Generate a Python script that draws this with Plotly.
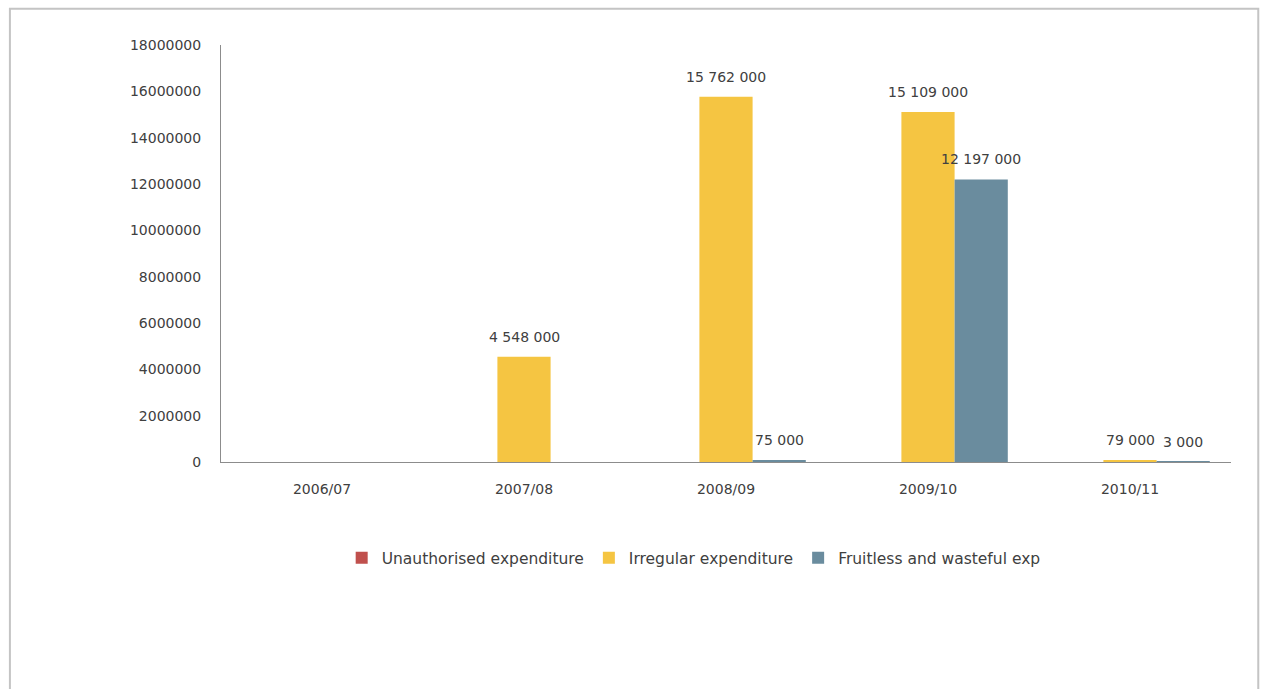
import plotly.graph_objects as go

years = ["2006/07", "2007/08", "2008/09", "2009/10", "2010/11"]
unauthorised = [0, 0, 0, 0, 0]
irregular = [0, 4548000, 15762000, 15109000, 79000]
fruitless = [0, 0, 75000, 12197000, 3000]

series_names = ["Unauthorised expenditure", "Irregular expenditure", "Fruitless and wasteful exp"]
colors = ["#C0504D", "#F5C542", "#6A8C9E"]
y_ticks = list(range(0, 18000001, 2000000))

font = "'DejaVu Sans', sans-serif"
text_color = "#404040"


def fmt(v):
    return f"{v:,}".replace(",", " ")


fig = go.Figure()
all_series = [unauthorised, irregular, fruitless]
for name, vals, col in zip(series_names, all_series, colors):
    fig.add_trace(go.Bar(
        x=years, y=vals, name=name, marker_color=col, marker_line_width=0,
    ))

# value labels above each non-zero bar, shifted to the bar's slot in the group
group_w = 1010 / len(years) * (1 - 0.21)
bar_w = group_w / len(all_series)
annotations = []
for i, vals in enumerate(all_series):
    shift = (i - (len(all_series) - 1) / 2) * bar_w
    for yr, v in zip(years, vals):
        if v:
            annotations.append(dict(
                x=yr, y=v, text=fmt(v), showarrow=False, xshift=shift,
                yanchor="bottom", yshift=10,
                font=dict(family=font, size=14, color=text_color),
            ))

fig.update_layout(
    width=1263, height=689,
    margin=dict(l=221, r=32, t=45, b=227),
    paper_bgcolor="white", plot_bgcolor="white",
    barmode="group", bargap=0.21, bargroupgap=0,
    font=dict(family=font, size=14, color=text_color),
    showlegend=True,
    legend=dict(orientation="h", x=0.468, xanchor="center", y=-0.19, yanchor="top",
                font=dict(size=15.5, color=text_color), itemwidth=30, traceorder="normal"),
    xaxis=dict(showline=True, linecolor="#8c8c8c", linewidth=1, showgrid=False,
               ticks="", tickfont=dict(size=14), ticklabelstandoff=14),
    yaxis=dict(range=[0, 18000000], tickvals=y_ticks, ticktext=[str(v) for v in y_ticks],
               showline=True, linecolor="#8c8c8c", linewidth=1, showgrid=False,
               zeroline=False, ticks="", tickfont=dict(size=14), ticklabelstandoff=16),
    annotations=annotations,
    shapes=[dict(type="rect", xref="paper", yref="paper",
                 x0=-0.209, x1=1.027, y0=-0.6, y1=1.087,
                 line=dict(color="#c4c4c4", width=2), layer="below")],
)

fig.write_html("out.html")
